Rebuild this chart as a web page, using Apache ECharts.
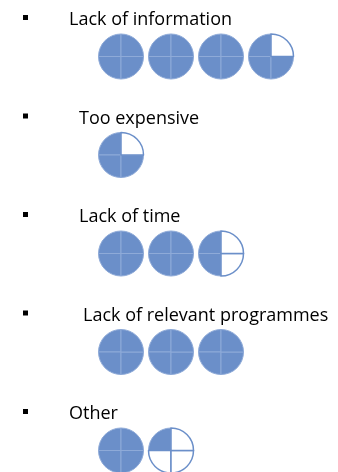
<!DOCTYPE html>
<html>
<head>
<meta charset="utf-8">
<script src="https://cdn.jsdelivr.net/npm/echarts@6/dist/echarts.min.js"></script>
<style>
  html, body { margin: 0; padding: 0; background: #fff; }
  #main { width: 338px; height: 472px; }
</style>
</head>
<body>
<div id="main"></div>
<script>
// reasons and how many icons (each icon = 4 quarters)
var categories = ['Lack of information', 'Too expensive', 'Lack of time', 'Lack of relevant programmes', 'Other'];
var values = [3.75, 0.75, 2.5, 3, 1.25];

var chart = echarts.init(document.getElementById('main'));

var blue = '#6b8fc9';
var rowGap = 98.5;
var textX = [69, 79, 79, 83, 69];

var graphic = [];
var series = [];

categories.forEach(function (name, r) {
    var baseY = r * rowGap;
    // bullet
    graphic.push({
        type: 'rect',
        shape: { x: 23, y: baseY + 15, width: 5, height: 5 },
        style: { fill: '#000' }
    });
    graphic.push({
        type: 'text',
        x: textX[r],
        y: baseY + 20,
        style: {
            text: name,
            fill: '#000',
            font: '18px "Open Sans"',
            verticalAlign: 'middle'
        }
    });

    // icons: quarters filled counterclockwise from the top
    var quarters = Math.round(values[r] * 4);
    var icons = Math.ceil(values[r]);
    for (var i = 0; i < icons; i++) {
        var data = [];
        for (var q = 0; q < 4; q++) {
            var on = i * 4 + q < quarters;
            data.push({
                value: 1,
                itemStyle: on
                    ? { color: blue, borderColor: '#8eaad8', borderWidth: 1 }
                    : { color: '#fff', borderColor: blue, borderWidth: 1.5 }
            });
        }
        series.push({
            type: 'pie',
            silent: true,
            center: [121 + i * 50, baseY + 56.5],
            radius: 22.5,
            startAngle: 90,
            clockwise: false,
            label: { show: false },
            labelLine: { show: false },
            animation: false,
            data: data
        });
    }
});

chart.setOption({
    backgroundColor: '#fff',
    graphic: graphic,
    series: series
});
</script>
</body>
</html>
